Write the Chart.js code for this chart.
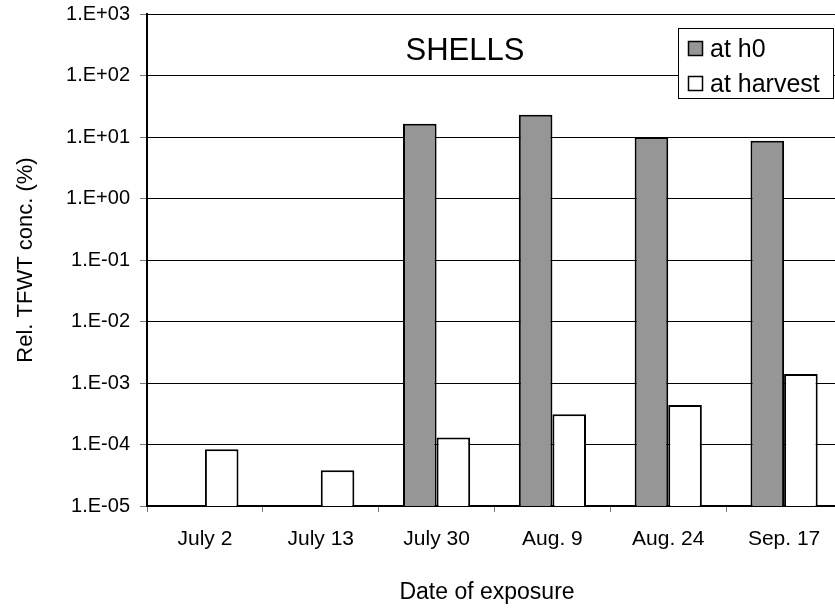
<!DOCTYPE html>
<html>
<head>
<meta charset="utf-8">
<script src="https://cdn.jsdelivr.net/npm/chart.js@4/dist/chart.umd.min.js"></script>
<style>
  html, body { margin: 0; padding: 0; background: #fff; overflow: hidden; }
  #wrap { width: 835px; height: 615px; overflow: hidden; }
  canvas { display: block; }
</style>
</head>
<body>
<div id="wrap"><canvas id="c" width="845" height="615"></canvas></div>
<script>
// Exposure dates
const categories = ['July 2', 'July 13', 'July 30', 'Aug. 9', 'Aug. 24', 'Sep. 17'];
// Relative TFWT concentration (%) right after exposure
const atH0 = [null, null, 16.4, 23.1, 10.0, 8.7];
// Relative TFWT concentration (%) at harvest
const atHarvest = [8.4e-5, 3.8e-5, 1.3e-4, 3.1e-4, 4.4e-4, 1.4e-3];
// Decade ticks of the log axis
const yTicks = [1e-5, 1e-4, 1e-3, 1e-2, 1e-1, 1e0, 1e1, 1e2, 1e3];
const tickLabels = ['1.E-05', '1.E-04', '1.E-03', '1.E-02', '1.E-01', '1.E+00', '1.E+01', '1.E+02', '1.E+03'];

const FONT = '"Liberation Sans", Arial, sans-serif';

// Inner title, boxed legend and axis titles
const decorations = {
  id: 'decorations',
  afterDraw(chart) {
    const ctx = chart.ctx;
    const area = chart.chartArea;
    ctx.save();
    ctx.fillStyle = '#000';

    // panel title
    ctx.font = '31px ' + FONT;
    ctx.textAlign = 'center';
    ctx.textBaseline = 'alphabetic';
    ctx.fillText('SHELLS', 465, 60);

    // x axis title
    ctx.font = '23px ' + FONT;
    ctx.fillText('Date of exposure', 487, 599);

    // y axis title
    ctx.save();
    ctx.translate(32, (area.top + area.bottom) / 2);
    ctx.rotate(-Math.PI / 2);
    ctx.font = '22px ' + FONT;
    ctx.fillText('Rel. TFWT conc. (%)', 0, 0);
    ctx.restore();

    // legend box
    const lx = 678, ly = 28, lw = 155, lh = 70;
    ctx.fillStyle = '#fff';
    ctx.fillRect(lx, ly, lw, lh);
    ctx.strokeStyle = '#000';
    ctx.lineWidth = 1;
    ctx.strokeRect(lx + 0.5, ly + 0.5, lw, lh);
    ctx.font = '25px ' + FONT;
    ctx.textAlign = 'left';
    chart.data.datasets.forEach((ds, i) => {
      const base = ly + 29 + i * 35;
      ctx.fillStyle = ds.backgroundColor;
      ctx.fillRect(lx + 10, base - 16, 15, 15);
      ctx.strokeStyle = '#000';
      ctx.lineWidth = 1.5;
      ctx.strokeRect(lx + 10.5, base - 15.5, 14, 14);
      ctx.fillStyle = '#000';
      ctx.fillText(ds.label, lx + 32, base);
    });
    ctx.restore();
  }
};

new Chart(document.getElementById('c'), {
  type: 'bar',
  data: {
    labels: categories,
    datasets: [
      { label: 'at h0', data: atH0, backgroundColor: '#969696', borderColor: '#000', borderWidth: 2 },
      { label: 'at harvest', data: atHarvest, backgroundColor: '#ffffff', borderColor: '#000', borderWidth: 2 }
    ]
  },
  options: {
    responsive: false,
    animation: false,
    devicePixelRatio: 1,
    layout: { padding: { top: 14, right: 3, left: 0, bottom: 0 } },
    datasets: { bar: { categoryPercentage: 0.58, barPercentage: 1.0 } },
    plugins: { legend: { display: false }, tooltip: { enabled: false } },
    scales: {
      x: {
        type: 'category',
        offset: true,
        grid: { offset: true, drawOnChartArea: false, drawTicks: true, tickLength: 6, color: '#777' },
        border: { color: '#000', width: 2 },
        ticks: { color: '#000', font: { family: FONT, size: 21 }, padding: 15, maxRotation: 0 },
        afterFit(scale) { scale.height = 109; scale.paddingLeft = 0; scale.paddingRight = 0; }
      },
      y: {
        type: 'logarithmic',
        min: 1e-5,
        max: 1e3,
        afterBuildTicks(scale) { scale.ticks = yTicks.map(v => ({ value: v })); },
        grid: { color: '#000', lineWidth: 1, tickLength: 7, tickColor: '#777' },
        border: { color: '#000', width: 2 },
        ticks: {
          color: '#000',
          font: { family: FONT, size: 20 },
          padding: 10,
          callback: (v) => { const i = yTicks.findIndex(t => Math.abs(Math.log10(t) - Math.log10(v)) < 1e-6); return i >= 0 ? tickLabels[i] : ''; }
        },
        afterFit(scale) { scale.width = 147; scale.paddingTop = 0; scale.paddingBottom = 0; }
      }
    }
  },
  plugins: [decorations]
});
</script>
</body>
</html>
